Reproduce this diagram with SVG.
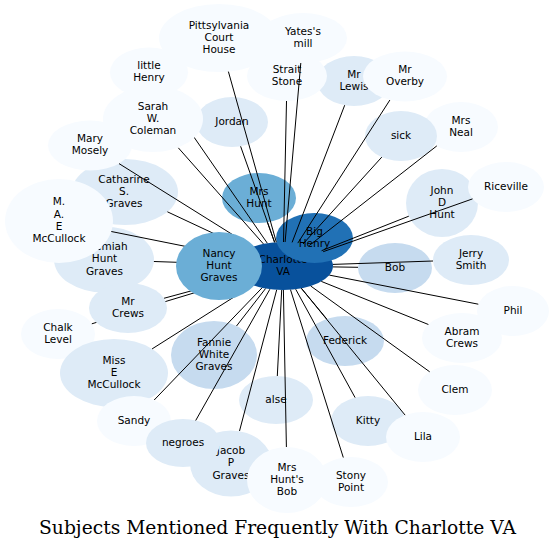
<svg xmlns="http://www.w3.org/2000/svg" width="555" height="550" viewBox="0 0 555 550">
<style>
text{font-family:"DejaVu Sans","Liberation Sans",sans-serif;font-size:10.5px;text-anchor:middle;fill:#000}
.title{font-family:"DejaVu Serif","Liberation Serif",serif;font-size:18.7px}
.c0{fill:#08519c}.c1{fill:#2171b5}.c2{fill:#6baed6}.c3{fill:#c6dbef}.c4{fill:#deebf7}.c5{fill:#f7fbff}
#edges line{stroke:#000;stroke-width:1}
</style>
<rect width="555" height="550" fill="#fff"/>
<g id="n-charlotte"><ellipse class="c0" cx="283" cy="266" rx="50" ry="24"/><text x="283" y="262.65"><tspan x="283">Charlotte</tspan><tspan x="283" dy="12.3">VA</tspan></text></g>
<g id="n-bighenry"><ellipse class="c1" cx="314.5" cy="238" rx="38.5" ry="25"/><text x="314.5" y="234.65"><tspan x="314.5">Big</tspan><tspan x="314.5" dy="12.3">Henry</tspan></text></g>
<g id="n-mrshunt"><ellipse class="c2" cx="259" cy="198" rx="37" ry="25"/><text x="259" y="194.65"><tspan x="259">Mrs</tspan><tspan x="259" dy="12.3">Hunt</tspan></text></g>
<g id="n-jordan"><ellipse class="c4" cx="232" cy="122" rx="36" ry="25"/><text x="232" y="124.8">Jordan</text></g>
<g id="n-pittsylvania"><ellipse class="c5" cx="219" cy="38" rx="60" ry="34"/><text x="219" y="28.5"><tspan x="219">Pittsylvania</tspan><tspan x="219" dy="12.3">Court</tspan><tspan x="219" dy="12.3">House</tspan></text></g>
<g id="n-yates"><ellipse class="c5" cx="303" cy="38" rx="44" ry="25"/><text x="303" y="34.65"><tspan x="303">Yates's</tspan><tspan x="303" dy="12.3">mill</tspan></text></g>
<g id="n-mrlewis"><ellipse class="c4" cx="354" cy="81" rx="37" ry="25"/><text x="354" y="77.65"><tspan x="354">Mr</tspan><tspan x="354" dy="12.3">Lewis</tspan></text></g>
<g id="n-straitstone"><ellipse class="c5" cx="287" cy="76" rx="40" ry="25"/><text x="287" y="72.65"><tspan x="287">Strait</tspan><tspan x="287" dy="12.3">Stone</tspan></text></g>
<g id="n-mroverby"><ellipse class="c5" cx="405" cy="76.5" rx="42" ry="25"/><text x="405" y="73.15"><tspan x="405">Mr</tspan><tspan x="405" dy="12.3">Overby</tspan></text></g>
<g id="n-mrsneal"><ellipse class="c5" cx="461" cy="127" rx="37" ry="25"/><text x="461" y="123.65"><tspan x="461">Mrs</tspan><tspan x="461" dy="12.3">Neal</tspan></text></g>
<g id="n-sick"><ellipse class="c4" cx="401" cy="136" rx="36" ry="25"/><text x="401" y="138.8">sick</text></g>
<g id="n-littlehenry"><ellipse class="c5" cx="149" cy="72.5" rx="39" ry="25"/><text x="149" y="69.15"><tspan x="149">little</tspan><tspan x="149" dy="12.3">Henry</tspan></text></g>
<g id="n-catharine"><ellipse class="c4" cx="125" cy="192" rx="53" ry="33"/><text x="124" y="182.5"><tspan x="124">Catharine</tspan><tspan x="124" dy="12.3">S.</tspan><tspan x="124" dy="12.3">Graves</tspan></text></g>
<g id="n-marymosely"><ellipse class="c5" cx="90" cy="145.5" rx="42" ry="25"/><text x="90" y="142.15"><tspan x="90">Mary</tspan><tspan x="90" dy="12.3">Mosely</tspan></text></g>
<g id="n-jeremiah"><ellipse class="c4" cx="104" cy="259.5" rx="50" ry="33"/><text x="104.5" y="250"><tspan x="104.5">Jeremiah</tspan><tspan x="104.5" dy="12.3">Hunt</tspan><tspan x="104.5" dy="12.3">Graves</tspan></text></g>
<g id="n-mae"><ellipse class="c5" cx="59" cy="221" rx="54" ry="42"/><text x="59" y="205.35"><tspan x="59">M.</tspan><tspan x="59" dy="12.3">A.</tspan><tspan x="59" dy="12.3">E</tspan><tspan x="59" dy="12.3">McCullock</tspan></text></g>
<g id="n-chalklevel"><ellipse class="c5" cx="58" cy="334" rx="37" ry="25"/><text x="58" y="330.65"><tspan x="58">Chalk</tspan><tspan x="58" dy="12.3">Level</tspan></text></g>
<g id="n-misse"><ellipse class="c4" cx="114" cy="373" rx="54" ry="34"/><text x="114" y="363.5"><tspan x="114">Miss</tspan><tspan x="114" dy="12.3">E</tspan><tspan x="114" dy="12.3">McCullock</tspan></text></g>
<g id="n-sandy"><ellipse class="c5" cx="134" cy="421" rx="37" ry="25"/><text x="134" y="423.8">Sandy</text></g>
<g id="n-jacob"><ellipse class="c4" cx="231" cy="463.5" rx="41" ry="33"/><text x="231" y="454"><tspan x="231">Jacob</tspan><tspan x="231" dy="12.3">P</tspan><tspan x="231" dy="12.3">Graves</tspan></text></g>
<g id="n-negroes"><ellipse class="c4" cx="183" cy="443" rx="37" ry="24"/><text x="183" y="445.8">negroes</text></g>
<g id="n-mrshuntsbob"><ellipse class="c5" cx="287" cy="480" rx="40" ry="33"/><text x="287" y="470.5"><tspan x="287">Mrs</tspan><tspan x="287" dy="12.3">Hunt's</tspan><tspan x="287" dy="12.3">Bob</tspan></text></g>
<g id="n-stonypoint"><ellipse class="c5" cx="351" cy="482" rx="37" ry="25"/><text x="351" y="478.65"><tspan x="351">Stony</tspan><tspan x="351" dy="12.3">Point</tspan></text></g>
<g id="n-alse"><ellipse class="c4" cx="276" cy="400" rx="37" ry="24"/><text x="276" y="402.8">alse</text></g>
<g id="n-fannie"><ellipse class="c3" cx="214" cy="355" rx="43" ry="34"/><text x="214" y="345.5"><tspan x="214">Fannie</tspan><tspan x="214" dy="12.3">White</tspan><tspan x="214" dy="12.3">Graves</tspan></text></g>
<g id="n-federick"><ellipse class="c3" cx="345" cy="341" rx="39" ry="25"/><text x="345" y="343.8">Federick</text></g>
<g id="n-kitty"><ellipse class="c4" cx="368" cy="421" rx="37" ry="25"/><text x="368" y="423.8">Kitty</text></g>
<g id="n-lila"><ellipse class="c5" cx="423" cy="437" rx="37" ry="25"/><text x="423" y="439.8">Lila</text></g>
<g id="n-clem"><ellipse class="c5" cx="455" cy="390" rx="37" ry="25"/><text x="455" y="392.8">Clem</text></g>
<g id="n-phil"><ellipse class="c5" cx="513" cy="311" rx="36" ry="25"/><text x="513" y="313.8">Phil</text></g>
<g id="n-abramcrews"><ellipse class="c5" cx="462" cy="338" rx="40" ry="25"/><text x="462" y="334.65"><tspan x="462">Abram</tspan><tspan x="462" dy="12.3">Crews</tspan></text></g>
<g id="n-jerrysmith"><ellipse class="c4" cx="471" cy="260" rx="38" ry="25"/><text x="471" y="256.65"><tspan x="471">Jerry</tspan><tspan x="471" dy="12.3">Smith</tspan></text></g>
<g id="n-bob"><ellipse class="c3" cx="395" cy="268" rx="37" ry="25"/><text x="395" y="270.8">Bob</text></g>
<g id="n-johndhunt"><ellipse class="c4" cx="442" cy="203" rx="36" ry="34"/><text x="442" y="193.5"><tspan x="442">John</tspan><tspan x="442" dy="12.3">D</tspan><tspan x="442" dy="12.3">Hunt</tspan></text></g>
<g id="n-riceville"><ellipse class="c5" cx="506" cy="187" rx="38" ry="25"/><text x="506" y="189.8">Riceville</text></g>
<g id="edges">
<line x1="228.4" y1="71.6" x2="276.3" y2="242.2"/>
<line x1="300.8" y1="63" x2="285.1" y2="242"/>
<line x1="164.8" y1="94.9" x2="267.3" y2="243.2"/>
<line x1="178.3" y1="147.8" x2="263.4" y2="243.9"/>
<line x1="240.6" y1="146.3" x2="274.6" y2="242.3"/>
<line x1="286.5" y1="101" x2="283.5" y2="242"/>
<line x1="344.7" y1="105.2" x2="292.1" y2="242.4"/>
<line x1="389.9" y1="100" x2="297.8" y2="243.1"/>
<line x1="381.8" y1="157.1" x2="303" y2="244"/>
<line x1="436.8" y1="145.9" x2="309.2" y2="245.6"/>
<line x1="119" y1="163.6" x2="252.4" y2="247"/>
<line x1="167.4" y1="211.8" x2="247.2" y2="249.2"/>
<line x1="111.3" y1="231.5" x2="236.9" y2="256.7"/>
<line x1="153.9" y1="261.5" x2="233.1" y2="264.2"/>
<line x1="163.9" y1="298.3" x2="239.5" y2="277.8"/>
<line x1="91.8" y1="323.8" x2="240.7" y2="278.8"/>
<line x1="152.1" y1="348.9" x2="252.8" y2="285.1"/>
<line x1="154.2" y1="400" x2="262.1" y2="287.8"/>
<line x1="195.7" y1="420.5" x2="269.9" y2="289.2"/>
<line x1="239.5" y1="431" x2="276.7" y2="289.8"/>
<line x1="286.4" y1="447" x2="283.4" y2="290"/>
<line x1="343.3" y1="457.5" x2="290.5" y2="289.7"/>
<line x1="277.3" y1="376" x2="281.7" y2="290"/>
<line x1="236.5" y1="326" x2="265.6" y2="288.5"/>
<line x1="326.7" y1="318.9" x2="301.4" y2="288.3"/>
<line x1="355.1" y1="397.6" x2="295.7" y2="289.2"/>
<line x1="405.1" y1="415.1" x2="301.3" y2="288.3"/>
<line x1="429.7" y1="371.8" x2="310.7" y2="286"/>
<line x1="428.4" y1="324.5" x2="321.3" y2="281.4"/>
<line x1="478.3" y1="304.2" x2="329.3" y2="275.1"/>
<line x1="433" y1="261" x2="332.9" y2="264.4"/>
<line x1="358" y1="267.3" x2="333" y2="266.9"/>
<line x1="408.8" y1="216.2" x2="321.6" y2="250.7"/>
<line x1="472.5" y1="198.9" x2="323.2" y2="251.7"/>
<line x1="267.4" y1="222.3" x2="274.6" y2="242.3"/>
</g>
<g id="n-sarah"><ellipse class="c5" cx="153" cy="119" rx="50" ry="33"/><text x="153" y="109.5"><tspan x="153">Sarah</tspan><tspan x="153" dy="12.3">W.</tspan><tspan x="153" dy="12.3">Coleman</tspan></text></g>
<g id="n-mrcrews"><ellipse class="c4" cx="128" cy="308" rx="39" ry="25"/><text x="128" y="304.65"><tspan x="128">Mr</tspan><tspan x="128" dy="12.3">Crews</tspan></text></g>
<g id="n-nancy"><ellipse class="c2" cx="219" cy="266" rx="43" ry="34"/><text x="219" y="256.5"><tspan x="219">Nancy</tspan><tspan x="219" dy="12.3">Hunt</tspan><tspan x="219" dy="12.3">Graves</tspan></text></g>
<text class="title" x="277.5" y="533.5">Subjects Mentioned Frequently With Charlotte VA</text>
</svg>
